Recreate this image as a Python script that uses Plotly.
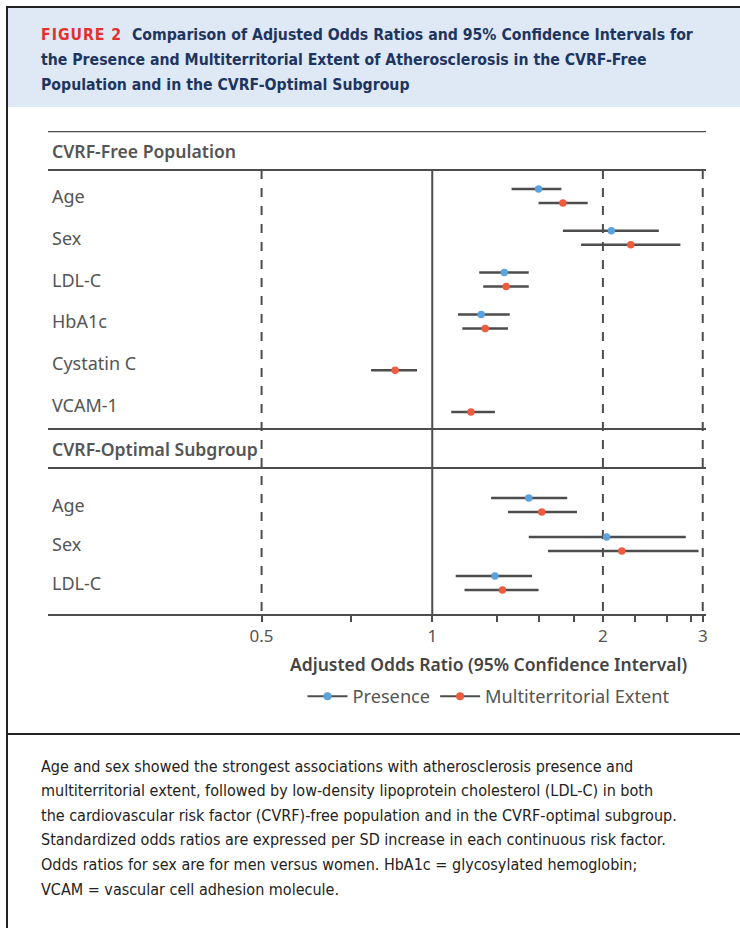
import math
import plotly.graph_objects as go

# ---------------- data ----------------
sec1_labels = ["Age", "Sex", "LDL-C", "HbA1c", "Cystatin C", "VCAM-1"]
sec1_pres_or = [1.54, 2.07, 1.34, 1.22, None, None]
sec1_pres_lo = [1.38, 1.70, 1.21, 1.11, None, None]
sec1_pres_hi = [1.69, 2.51, 1.48, 1.37, None, None]
sec1_mt_or = [1.70, 2.24, 1.35, 1.24, 0.86, 1.17]
sec1_mt_lo = [1.54, 1.83, 1.23, 1.13, 0.78, 1.08]
sec1_mt_hi = [1.88, 2.74, 1.48, 1.36, 0.94, 1.29]

sec2_labels = ["Age", "Sex", "LDL-C"]
sec2_pres_or = [1.48, 2.03, 1.29]
sec2_pres_lo = [1.27, 1.48, 1.10]
sec2_pres_hi = [1.73, 2.80, 1.50]
sec2_mt_or = [1.56, 2.16, 1.33]
sec2_mt_lo = [1.36, 1.60, 1.14]
sec2_mt_hi = [1.80, 2.95, 1.54]

section_titles = ["CVRF-Free Population", "CVRF-Optimal Subgroup"]
series_names = ["Presence", "Multiterritorial Extent"]
major_ticks = [0.5, 1, 2, 3]
minor_ticks = [0.72, 1.3, 1.54, 1.78, 2.28, 2.59, 2.86]
ref_line = 1
dashed_lines = [0.5, 2, 3]

title_lines = [
    "Comparison of Adjusted Odds Ratios and 95% Confidence Intervals for",
    "the Presence and Multiterritorial Extent of Atherosclerosis in the CVRF-Free",
    "Population and in the CVRF-Optimal Subgroup",
]
caption_lines = [
    "Age and sex showed the strongest associations with atherosclerosis presence and",
    "multiterritorial extent, followed by low-density lipoprotein cholesterol (LDL-C) in both",
    "the cardiovascular risk factor (CVRF)-free population and in the CVRF-optimal subgroup.",
    "Standardized odds ratios are expressed per SD increase in each continuous risk factor.",
    "Odds ratios for sex are for men versus women. HbA1c = glycosylated hemoglobin;",
    "VCAM = vascular cell adhesion molecule.",
]

# ---------------- layout constants ----------------
FW, FH = 740, 928
L, R, T, B = 48, 34, 131, 314
PW, PH = FW - L - R, FH - T - B
HEADER_H = 39
SEC1_FIRST, SEC1_STEP = 65, 41.8
SEC2_TOP = 298
SEC2_FIRST, SEC2_STEP = 374, 39
PAIR_OFF = 7

BLUE = "#5ba3dc"
RED = "#ef5b3f"
LINE = "#4d4d4d"
GRAY = "#555555"
CHART_FONT = "Noto Sans, Open Sans, sans-serif"
NARROW = "Liberation Sans Narrow, DejaVu Sans Condensed, Arial Narrow, sans-serif"


def px2x(px):
    return (px - L) / PW


def px2y(py):
    return 1 - (py - T) / PH


sec1_y = [SEC1_FIRST + SEC1_STEP * i for i in range(len(sec1_labels))]
sec2_y = [SEC2_FIRST + SEC2_STEP * i for i in range(len(sec2_labels))]

all_y = sec1_y + sec2_y
series = [
    (sec1_pres_or + sec2_pres_or, sec1_pres_lo + sec2_pres_lo, sec1_pres_hi + sec2_pres_hi, -PAIR_OFF, BLUE),
    (sec1_mt_or + sec2_mt_or, sec1_mt_lo + sec2_mt_lo, sec1_mt_hi + sec2_mt_hi, PAIR_OFF, RED),
]

fig = go.Figure()

# reference lines
ytop, ybot = HEADER_H, PH
for v in dashed_lines:
    fig.add_trace(go.Scatter(x=[v, v], y=[ytop, ybot], mode="lines",
                             line=dict(color=LINE, width=2, dash="dash"),
                             showlegend=False, hoverinfo="skip"))
fig.add_trace(go.Scatter(x=[ref_line, ref_line], y=[ytop, ybot], mode="lines",
                         line=dict(color=LINE, width=2), showlegend=False, hoverinfo="skip"))

for (orv, lo, hi, off, col), name in zip(series, series_names):
    xs, ys, ep, em = [], [], [], []
    for o, l_, h_, y in zip(orv, lo, hi, all_y):
        if o is None:
            continue
        xs.append(o)
        ys.append(y + off)
        ep.append(h_ - o)
        em.append(o - l_)
    fig.add_trace(go.Scatter(
        x=xs, y=ys, mode="markers",
        marker=dict(color=col, size=7.5),
        error_x=dict(type="data", array=ep, arrayminus=em, symmetric=False,
                     color=LINE, thickness=2.5, width=0),
        showlegend=False, name=name))
    # legend entry
    fig.add_trace(go.Scatter(x=[None], y=[None], mode="lines+markers", name=name,
                             line=dict(color=LINE, width=2),
                             marker=dict(color=col, size=8)))

shapes = []
ann = []

# outer frame
shapes.append(dict(type="rect", xref="paper", yref="paper",
                   x0=px2x(8), x1=px2x(742), y0=px2y(8), y1=px2y(107),
                   fillcolor="#dfe9f5", line=dict(width=0), layer="below"))
shapes.append(dict(type="line", xref="paper", yref="paper",
                   x0=px2x(7), x1=px2x(742), y0=px2y(7), y1=px2y(7),
                   line=dict(color="#222", width=2)))
shapes.append(dict(type="line", xref="paper", yref="paper",
                   x0=px2x(7), x1=px2x(7), y0=px2y(6), y1=px2y(930),
                   line=dict(color="#222", width=2)))
shapes.append(dict(type="line", xref="paper", yref="paper",
                   x0=px2x(7), x1=px2x(742), y0=px2y(734), y1=px2y(734),
                   line=dict(color="#222", width=2)))

# table horizontal lines
for yv, w in [(0, 2.5), (HEADER_H, 2), (SEC2_TOP, 2), (SEC2_TOP + HEADER_H, 2)]:
    shapes.append(dict(type="line", xref="paper", yref="y", x0=0, x1=1, y0=yv, y1=yv,
                       line=dict(color=LINE, width=w)))

# section titles
for t, yc in zip(section_titles, [HEADER_H / 2, SEC2_TOP + HEADER_H / 2]):
    ann.append(dict(text=t, xref="paper", yref="y", x=px2x(50), y=yc,
                    xanchor="left", yanchor="middle", showarrow=False,
                    font=dict(family=CHART_FONT, size=17.6, color=GRAY, weight=600)))
for lab, yc in zip(sec1_labels + sec2_labels, all_y):
    ann.append(dict(text=lab, xref="paper", yref="y", x=px2x(50), y=yc,
                    xanchor="left", yanchor="middle", showarrow=False,
                    font=dict(family=CHART_FONT, size=18, color=GRAY)))

# axis title
ann.append(dict(text="Adjusted Odds Ratio (95% Confidence Interval)", xref="paper", yref="paper",
                x=px2x(488), y=px2y(664), xanchor="center", yanchor="middle", showarrow=False,
                font=dict(family=CHART_FONT, size=17.5, color="#444", weight=600)))

# figure title
for i, line in enumerate(title_lines):
    txt = line
    if i == 0:
        txt = ('<span style="color:#e3302f;letter-spacing:1px">FIGURE 2</span>  ' + line)
    ann.append(dict(text=txt, xref="paper", yref="paper", x=px2x(39), y=px2y(34 + 25.5 * i),
                    xanchor="left", yanchor="middle", showarrow=False,
                    font=dict(family=NARROW, size=15.7, color="#1d3560", weight="bold")))

# caption
for i, line in enumerate(caption_lines):
    ann.append(dict(text=line, xref="paper", yref="paper", x=px2x(39), y=px2y(766 + 24.6 * i),
                    xanchor="left", yanchor="middle", showarrow=False,
                    font=dict(family=NARROW, size=16, color="#222")))

tickvals = major_ticks + minor_ticks
ticktext = [str(v) for v in major_ticks] + [""] * len(minor_ticks)

fig.update_layout(
    width=FW, height=FH,
    margin=dict(l=L, r=R, t=T, b=B, pad=0),
    paper_bgcolor="white", plot_bgcolor="white",
    shapes=shapes, annotations=ann,
    xaxis=dict(type="log", range=[math.log10(0.21), math.log10(3.04)],
               tickvals=tickvals, ticktext=ticktext, ticks="outside", ticklen=6,
               tickwidth=2, tickcolor=LINE, showline=True, linecolor=LINE, linewidth=2,
               showgrid=False, zeroline=False,
               tickfont=dict(family=CHART_FONT, size=17, color=GRAY)),
    yaxis=dict(range=[PH, 0], showticklabels=False, showgrid=False, zeroline=False,
               showline=False, ticks=""),
    legend=dict(orientation="h", x=px2x(489), xanchor="center", y=px2y(678), yanchor="top",
                font=dict(family=CHART_FONT, size=18.2, color=GRAY), bgcolor="rgba(0,0,0,0)",
                itemwidth=40),
    showlegend=True,
)

fig.write_html("out.html", config={"displayModeBar": False},
               post_script="document.body.style.margin='0';")
